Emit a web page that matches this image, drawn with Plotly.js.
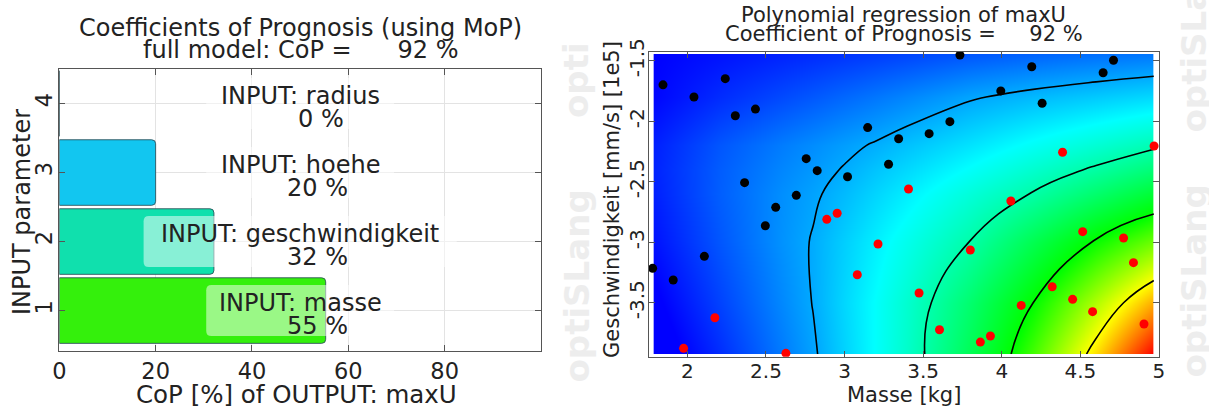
<!DOCTYPE html>
<html><head><meta charset="utf-8">
<script src="https://cdn.plot.ly/plotly-3.0.1.min.js"></script>
<style>html,body{margin:0;padding:0;background:#fff;} #chart{width:1209px;height:410px;}</style>
</head><body><div id="chart"></div>
<script>
// ---------- left panel: Coefficients of Prognosis ----------
const inputNames   = ['masse', 'geschwindigkeit', 'hoehe', 'radius'];
const inputIndex   = [1, 2, 3, 4];
const copValues    = [55.3, 32.1, 20.0, 0];
const copLabels    = ['55 %', '32 %', '20 %', '0 %'];
const copTickVals  = [0, 20, 40, 60, 80];
const paramTicks   = [1, 2, 3, 4];

// ---------- right panel: polynomial regression surface ----------
const gridMasse  = [1.784, 2.2, 2.6, 2.8, 3.0, 3.2, 3.4, 3.8, 4.2, 4.6, 4.968];
const gridGeschw = [-3.924, -3.5, -3.0, -2.6, -2.4, -2.2, -1.8, -1.445];
const surfaceLevel = [
  [-0.20, 0.25, 0.72, 0.96, 1.24, 1.52, 1.81, 2.50, 3.27, 4.13, 5.00],
  [-0.06, 0.38, 0.80, 1.01, 1.27, 1.52, 1.78, 2.36, 3.00, 3.70, 4.33],
  [ 0.10, 0.50, 0.86, 1.02, 1.22, 1.42, 1.61, 2.01, 2.53, 3.04, 3.43],
  [ 0.18, 0.55, 0.84, 0.96, 1.10, 1.26, 1.41, 1.72, 2.02, 2.37, 2.69],
  [ 0.20, 0.54, 0.79, 0.90, 1.02, 1.16, 1.28, 1.53, 1.79, 2.05, 2.31],
  [ 0.18, 0.50, 0.73, 0.83, 0.93, 1.03, 1.14, 1.34, 1.55, 1.75, 1.94],
  [ 0.03, 0.25, 0.43, 0.52, 0.61, 0.70, 0.79, 0.97, 1.09, 1.19, 1.28],
  [ 0.00, 0.10, 0.20, 0.25, 0.30, 0.35, 0.40, 0.50, 0.58, 0.65, 0.70]
];
// sample points
const blackMasse  = [1.845, 2.042, 2.241, 2.305, 2.433, 3.734, 4.191, 4.645, 4.711, 3.994, 4.257, 3.670, 3.538,
                     3.147, 3.344, 2.756, 2.826, 2.364, 3.019, 3.280, 2.693, 2.562, 2.496, 2.108, 1.779, 1.910];
const blackGeschw = [-1.700, -1.800, -1.649, -1.955, -1.900, -1.453, -1.550, -1.600, -1.497, -1.750, -1.852, -2.004, -2.103,
                     -2.053, -2.145, -2.310, -2.409, -2.508, -2.459, -2.356, -2.613, -2.712, -2.864, -3.117, -3.216, -3.312];
const redMasse    = [4.387, 4.969, 3.407, 4.058, 2.953, 2.887, 3.213, 4.515, 4.775, 3.800, 4.838, 3.081,
                     3.474, 4.321, 4.451, 4.124, 4.578, 4.905, 3.604, 2.175, 3.864, 3.928, 1.976, 2.627];
const redGeschw   = [-2.257, -2.205, -2.560, -2.660, -2.761, -2.811, -3.015, -2.913, -2.965, -3.064, -3.169, -3.269,
                     -3.420, -3.368, -3.472, -3.522, -3.574, -3.676, -3.723, -3.624, -3.825, -3.775, -3.877, -3.918];
const masseTicks     = [2, 2.5, 3, 3.5, 4, 4.5, 5];
const masseTickText  = ['2', '2.5', '3', '3.5', '4', '4.5', '5'];
const geschwTicks    = [-1.5, -2, -2.5, -3, -3.5];
const geschwTickText = ['-1.5', '-2', '-2.5', '-3', '-3.5'];

// ---------- styling / layout helpers ----------
const W = 1209, H = 410;
const px = x => x / W;
const py = y => 1 - y / H;
const FONT = 'DejaVu Sans';
const TXT = '#222222';
const NB = '\u00a0';

const barColors = ['#34f00c', '#10e0ad', '#12c6f0', '#12c6f0'];
const boxHalf   = [19.5, 32.5, 19.5, 19.5];   // half width of label boxes (x units)

function roundedRect(x0, x1, y0, y1, rx, ry) {
  return `M${x0 + rx},${y0} L${x1 - rx},${y0} Q${x1},${y0} ${x1},${y0 + ry} L${x1},${y1 - ry} Q${x1},${y1} ${x1 - rx},${y1} ` +
         `L${x0 + rx},${y1} Q${x0},${y1} ${x0},${y1 - ry} L${x0},${y0 + ry} Q${x0},${y0} ${x0 + rx},${y0} Z`;
}

const traces = [
  {
    type: 'bar', orientation: 'h', x: copValues, y: inputIndex, width: 0.95,
    xaxis: 'x', yaxis: 'y',
    marker: { color: barColors, line: { color: 'rgba(40,75,85,0.85)', width: 1 }, cornerradius: 4 },
    hoverinfo: 'skip', showlegend: false
  },
  {
    type: 'contour', x: gridMasse, y: gridGeschw, z: surfaceLevel, xaxis: 'x2', yaxis: 'y2',
    colorscale: [[0, '#0000ff'], [0.3, '#00ffff'], [0.6, '#00ff00'], [0.8, '#ffff00'], [1, '#ff0000']],
    zmin: 0, zmax: 5, autocontour: false,
    contours: { start: 1, end: 4, size: 1, coloring: 'heatmap', showlabels: false },
    line: { color: '#000000', width: 1.6, smoothing: 1.3 },
    showscale: false, hoverinfo: 'skip', showlegend: false
  },
  {
    type: 'scatter', mode: 'markers', x: blackMasse, y: blackGeschw, xaxis: 'x2', yaxis: 'y2',
    marker: { color: '#000000', size: 9 }, hoverinfo: 'skip', showlegend: false
  },
  {
    type: 'scatter', mode: 'markers', x: redMasse, y: redGeschw, xaxis: 'x2', yaxis: 'y2',
    marker: { color: '#ff0000', size: 9 }, hoverinfo: 'skip', showlegend: false
  }
];

const annotations = [];
const shapes = [];
const pFont = (s, c) => ({ family: FONT, size: s, color: c || TXT });

// bar labels
inputIndex.forEach((yi, i) => {
  shapes.push({
    type: 'path', xref: 'x', yref: 'y', layer: 'above',
    path: roundedRect(50 - boxHalf[i], 50 + boxHalf[i], yi - 0.37, yi + 0.37, 1.1, 0.075),
    fillcolor: 'rgba(255,255,255,0.5)', line: { width: 0 }
  });
  annotations.push({ xref: 'x', yref: 'y', x: 50, y: yi, yshift: 8, text: 'INPUT: ' + inputNames[i],
    showarrow: false, font: pFont(24), xanchor: 'center', yanchor: 'middle' });
  annotations.push({ xref: 'x', yref: 'y', x: 50, y: yi, yshift: -15.5, xshift: copValues[i] < 10 ? 21 : 17,
    text: copLabels[i], showarrow: false, font: pFont(24), xanchor: 'center', yanchor: 'middle' });
});

// titles
annotations.push({ xref: 'paper', yref: 'paper', x: px(300), y: py(28), text: 'Coefficients of Prognosis (using MoP)',
  showarrow: false, font: pFont(24), xanchor: 'center', yanchor: 'middle' });
annotations.push({ xref: 'paper', yref: 'paper', x: px(300), y: py(50), text: 'full model: CoP =' + NB.repeat(6) + '92 %',
  showarrow: false, font: pFont(24), xanchor: 'center', yanchor: 'middle' });
annotations.push({ xref: 'paper', yref: 'paper', x: px(904), y: py(14.5), text: 'Polynomial regression of maxU',
  showarrow: false, font: pFont(21), xanchor: 'center', yanchor: 'middle' });
annotations.push({ xref: 'paper', yref: 'paper', x: px(904), y: py(34), text: 'Coefficient of Prognosis =' + NB.repeat(5) + '92 %',
  showarrow: false, font: pFont(21), xanchor: 'center', yanchor: 'middle' });

// axis titles
annotations.push({ xref: 'paper', yref: 'paper', x: px(296), y: py(394), text: 'CoP [%] of OUTPUT: maxU',
  showarrow: false, font: pFont(24.5), xanchor: 'center', yanchor: 'middle' });
annotations.push({ xref: 'paper', yref: 'paper', x: px(22), y: py(212), text: 'INPUT parameter', textangle: -90,
  showarrow: false, font: pFont(24), xanchor: 'center', yanchor: 'middle' });
annotations.push({ xref: 'paper', yref: 'paper', x: px(904), y: py(395), text: 'Masse [kg]',
  showarrow: false, font: pFont(21), xanchor: 'center', yanchor: 'middle' });
annotations.push({ xref: 'paper', yref: 'paper', x: px(612), y: py(200), text: 'Geschwindigkeit [mm/s] [1e5]', textangle: -90,
  showarrow: false, font: pFont(21), xanchor: 'center', yanchor: 'middle' });

// watermarks
[[576, 120, 'opti'], [576, 385, 'optiSLang'], [1193, 135, 'optiSLang'], [1193, 380, 'optiSLang']].forEach(p => {
  annotations.push({ xref: 'paper', yref: 'paper', x: px(p[0]), y: py(p[1]), text: '<b>' + p[2] + '</b>', textangle: -90,
    showarrow: false, font: pFont(34, '#ededed'), xanchor: 'center', yanchor: 'bottom' });
});

const axCommon = {
  ticks: 'inside', ticklen: 6, tickcolor: '#555555', tickwidth: 1,
  showline: true, linecolor: '#555555', linewidth: 1, mirror: 'ticks',
  zeroline: false, fixedrange: true
};

const layout = {
  width: W, height: H,
  margin: { l: 0, r: 0, t: 0, b: 0 },
  paper_bgcolor: '#ffffff', plot_bgcolor: '#ffffff',
  font: { family: FONT, color: TXT },
  showlegend: false,
  xaxis: Object.assign({}, axCommon, {
    domain: [px(59.3), px(541)], range: [0, 100], anchor: 'y',
    tickmode: 'array', tickvals: copTickVals, showgrid: true, gridcolor: '#e3e3e3',
    tickfont: pFont(22.5)
  }),
  yaxis: Object.assign({}, axCommon, {
    domain: [py(351.3), py(69)], range: [0.41, 4.5], anchor: 'x',
    tickmode: 'array', tickvals: paramTicks, tickangle: -90, showgrid: true, gridcolor: '#e3e3e3',
    tickfont: pFont(22.5), ticklabelstandoff: -3
  }),
  xaxis2: Object.assign({}, axCommon, {
    domain: [px(648.7), px(1159)], range: [1.754, 5.0005], anchor: 'y2',
    tickmode: 'array', tickvals: masseTicks, ticktext: masseTickText, showgrid: false,
    tickfont: pFont(20), ticklabelstandoff: -4
  }),
  yaxis2: Object.assign({}, axCommon, {
    domain: [py(356.7), py(51.7)], range: [-3.946, -1.426], anchor: 'x2',
    tickmode: 'array', tickvals: geschwTicks, ticktext: geschwTickText, tickangle: -90, showgrid: false,
    tickfont: pFont(20), ticklabelstandoff: -4
  }),
  annotations: annotations,
  shapes: shapes
};

Plotly.newPlot('chart', traces, layout, { staticPlot: true, displayModeBar: false });
</script>
</body></html>
